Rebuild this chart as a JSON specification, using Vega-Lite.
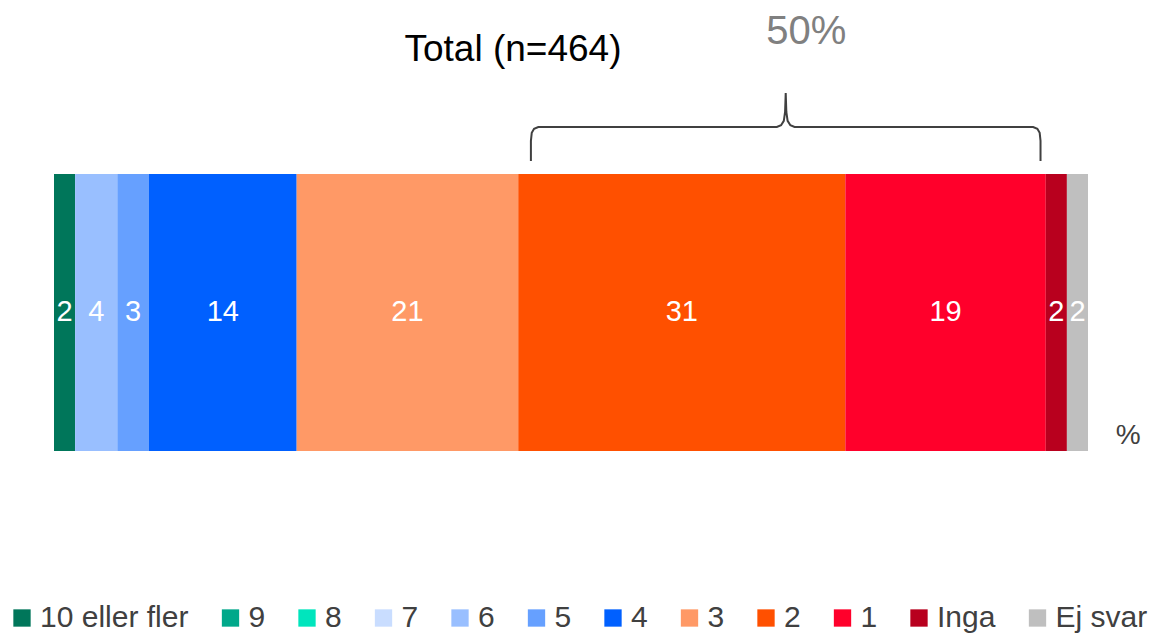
{
  "$schema": "https://vega.github.io/schema/vega-lite/v6.json",
  "width": 1034,
  "height": 400,
  "autosize": {"type": "none"},
  "padding": {"left": 54, "top": 70, "right": 65, "bottom": 165},
  "background": "white",
  "config": {
    "view": {"stroke": null},
    "font": "Liberation Sans"
  },
  "data": {
    "values": [
      {"grupp": "Total", "kategori": "10 eller fler", "andel": 2, "ordning": 1},
      {"grupp": "Total", "kategori": "6", "andel": 4, "ordning": 5},
      {"grupp": "Total", "kategori": "5", "andel": 3, "ordning": 6},
      {"grupp": "Total", "kategori": "4", "andel": 14, "ordning": 7},
      {"grupp": "Total", "kategori": "3", "andel": 21, "ordning": 8},
      {"grupp": "Total", "kategori": "2", "andel": 31, "ordning": 9},
      {"grupp": "Total", "kategori": "1", "andel": 19, "ordning": 10},
      {"grupp": "Total", "kategori": "Inga", "andel": 2, "ordning": 11},
      {"grupp": "Total", "kategori": "Ej svar", "andel": 2, "ordning": 12}
    ]
  },
  "resolve": {"scale": {"y": "independent"}},
  "layer": [
    {
      "layer": [
        {
          "mark": {"type": "bar", "strokeWidth": 0},
          "encoding": {
            "x": {
              "field": "andel",
              "type": "quantitative",
              "stack": "zero",
              "scale": {"domain": [0, 98], "nice": false},
              "axis": null
            },
            "y": {
              "field": "grupp",
              "type": "nominal",
              "scale": {"paddingInner": 0, "paddingOuter": 0.222, "align": 0.8455},
              "axis": null
            },
            "order": {"field": "ordning", "type": "quantitative"},
            "color": {
              "field": "kategori",
              "type": "nominal",
              "scale": {
                "domain": ["10 eller fler", "9", "8", "7", "6", "5", "4", "3", "2", "1", "Inga", "Ej svar"],
                "range": ["#00765a", "#00a88a", "#00e5bd", "#c9ddff", "#99bfff", "#66a0ff", "#0060ff", "#ff9966", "#ff5000", "#ff002b", "#b8001e", "#bfbfbf"]
              },
              "legend": {
                "orient": "none",
                "legendX": -47,
                "legendY": 533,
                "direction": "horizontal",
                "columns": 12,
                "title": null,
                "padding": 0,
                "symbolType": "square",
                "symbolSize": 300,
                "symbolStrokeWidth": 0,
                "symbolOpacity": 1,
                "labelFont": "Liberation Sans",
                "labelFontSize": 30,
                "labelColor": "#404040",
                "labelOffset": 3,
                "columnPadding": 26.5,
                "labelLimit": 400
              }
            }
          }
        },
        {
          "mark": {"type": "text", "color": "white", "fontSize": 29, "font": "Liberation Sans", "baseline": "middle", "align": "center"},
          "encoding": {
            "x": {"field": "andel", "type": "quantitative", "stack": "zero", "bandPosition": 0.5},
            "y": {"field": "grupp", "type": "nominal"},
            "detail": {"field": "kategori", "type": "nominal"},
            "order": {"field": "ordning", "type": "quantitative"},
            "text": {"field": "andel", "type": "quantitative"}
          }
        }
      ]
    },
    {
      "layer": [
        {
          "data": {
            "values": [
              {"seq": 1, "bx": 45.2, "by": 77.25},
              {"seq": 2, "bx": 45.2, "by": 82.3},
              {"seq": 3, "bx": 45.28, "by": 84.3},
              {"seq": 4, "bx": 45.5, "by": 85.3},
              {"seq": 5, "bx": 45.9, "by": 85.75},
              {"seq": 6, "bx": 68.51, "by": 85.75},
              {"seq": 7, "bx": 68.91, "by": 86.2},
              {"seq": 8, "bx": 69.17, "by": 87.3},
              {"seq": 9, "bx": 69.29, "by": 89.5},
              {"seq": 10, "bx": 69.35, "by": 94.25},
              {"seq": 11, "bx": 69.41, "by": 89.5},
              {"seq": 12, "bx": 69.53, "by": 87.3},
              {"seq": 13, "bx": 69.79, "by": 86.2},
              {"seq": 14, "bx": 70.19, "by": 85.75},
              {"seq": 15, "bx": 92.8, "by": 85.75},
              {"seq": 16, "bx": 93.2, "by": 85.3},
              {"seq": 17, "bx": 93.42, "by": 84.3},
              {"seq": 18, "bx": 93.5, "by": 82.3},
              {"seq": 19, "bx": 93.5, "by": 77.25}
            ]
          },
          "mark": {"type": "line", "color": "#404040", "strokeWidth": 2, "interpolate": "linear", "clip": false},
          "encoding": {
            "x": {"field": "bx", "type": "quantitative"},
            "y": {"field": "by", "type": "quantitative", "scale": {"domain": [0, 100], "nice": false}, "axis": null},
            "order": {"field": "seq", "type": "quantitative"}
          }
        },
        {
          "data": {"values": [{}]},
          "mark": {"type": "text", "color": "#808080", "fontSize": 40, "font": "Liberation Sans", "baseline": "alphabetic", "align": "center"},
          "encoding": {
            "x": {"datum": 71.3, "type": "quantitative"},
            "y": {"datum": 106.5, "type": "quantitative"},
            "text": {"value": "50%"}
          }
        },
        {
          "data": {"values": [{}]},
          "mark": {"type": "text", "color": "#000000", "fontSize": 37, "font": "Liberation Sans", "baseline": "alphabetic", "align": "center"},
          "encoding": {
            "x": {"datum": 43.5, "type": "quantitative"},
            "y": {"datum": 102.25, "type": "quantitative"},
            "text": {"value": "Total (n=464)"}
          }
        },
        {
          "data": {"values": [{}]},
          "mark": {"type": "text", "color": "#404040", "fontSize": 28, "font": "Liberation Sans", "baseline": "alphabetic", "align": "center"},
          "encoding": {
            "x": {"datum": 101.8, "type": "quantitative"},
            "y": {"datum": 6.5, "type": "quantitative"},
            "text": {"value": "%"}
          }
        }
      ]
    }
  ]
}
